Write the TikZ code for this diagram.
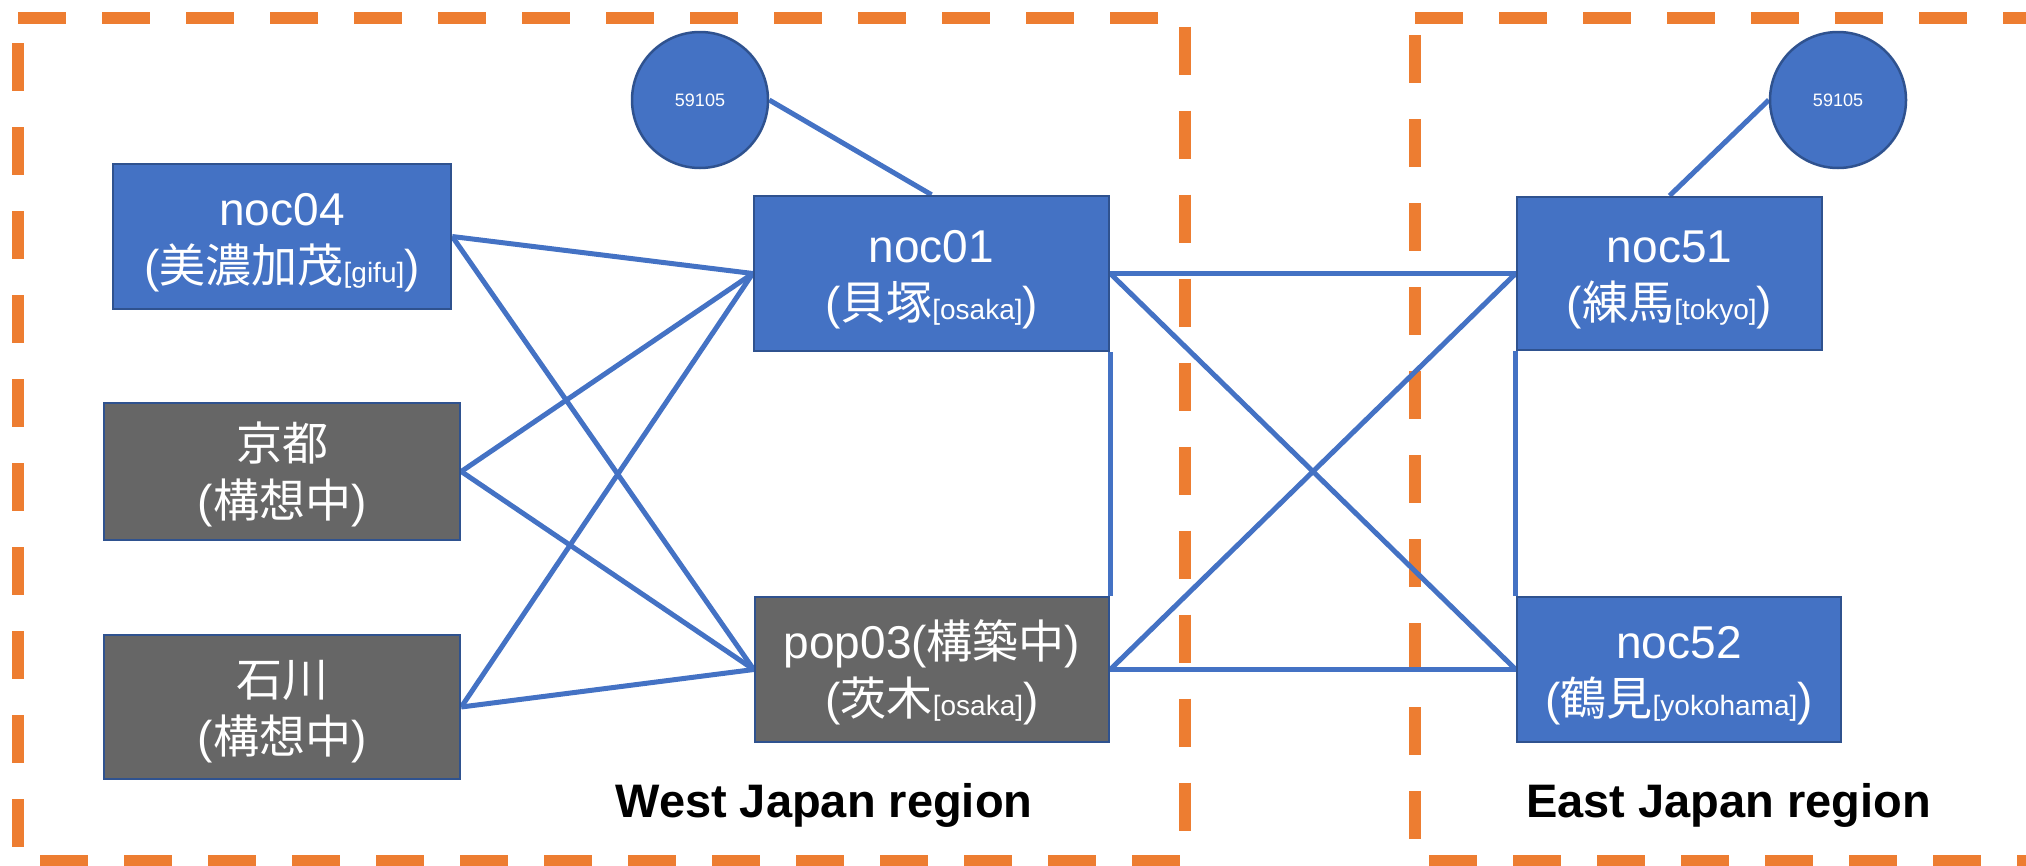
\documentclass[tikz,border=0pt]{standalone}
\usepackage{fontspec}
\setmainfont{Liberation Sans}
\newfontfamily\jpf{Noto Sans CJK JP}
\definecolor{orng}{HTML}{ED7D31}
\definecolor{bfill}{HTML}{4472C4}
\definecolor{bdraw}{HTML}{2F528F}
\definecolor{gfill}{HTML}{666666}
\newcommand{\smallt}[1]{{\fontsize{28}{57}\selectfont #1}}
\newcommand{\topstrut}{\rule{0pt}{45pt}}
\pgfdeclarelayer{bglayer}
\pgfdeclarelayer{midlayer}
\pgfsetlayers{bglayer,midlayer,main}
\begin{document}
\begin{tikzpicture}[x=1pt,y=-1pt,
  region/.style={draw=orng,line width=12pt,dash pattern=on 48pt off 36pt},
  bluebox/.style={draw=bdraw,fill=bfill,line width=2.5pt,text=white,align=center,
    inner sep=0pt,font=\fontsize{46}{57}\selectfont},
  graybox/.style={bluebox,fill=gfill},
  asn/.style={circle,draw=bdraw,fill=bfill,line width=2.5pt,text=white,
    minimum size=136pt,inner sep=0pt,font=\fontsize{18}{20}\selectfont},
  link/.style={draw=bfill,line width=5pt},
  regionlabel/.style={anchor=base,font=\bfseries\fontsize{47}{50}\selectfont}]
\clip (0,0) rectangle (2026,865);

% nodes
\node[bluebox,minimum width=338pt,minimum height=145pt] (noc04) at (282,236.5)
  {\topstrut noc04\\({\jpf 美濃加茂}\smallt{[gifu]})};
\node[graybox,minimum width=356pt,minimum height=137pt] (kyoto) at (282,471.5)
  {\topstrut{\jpf 京都}\\({\jpf 構想中})};
\node[graybox,minimum width=356pt,minimum height=144pt] (ishikawa) at (282,707)
  {\topstrut{\jpf 石川}\\({\jpf 構想中})};
\node[bluebox,minimum width=355pt,minimum height=155pt] (noc01) at (931.5,273.5)
  {\topstrut noc01\\({\jpf 貝塚}\smallt{[osaka]})};
\node[graybox,minimum width=354pt,minimum height=145pt] (pop03) at (932,669.5)
  {\topstrut pop03({\jpf 構築中})\\({\jpf 茨木}\smallt{[osaka]})};
\node[bluebox,minimum width=305pt,minimum height=153pt] (noc51) at (1669.5,273.5)
  {\topstrut noc51\\({\jpf 練馬}\smallt{[tokyo]})};
\node[bluebox,minimum width=324pt,minimum height=145pt] (noc52) at (1679,669.5)
  {\topstrut noc52\\({\jpf 鶴見}\smallt{[yokohama]})};
\node[asn] (cW) at (700,100) {59105};
\node[asn] (cE) at (1838,100) {59105};
\node[regionlabel] (westlbl) at (824,817) {West Japan region};
\node[regionlabel] (eastlbl) at (1728.5,817) {East Japan region};

% region frames
\begin{pgfonlayer}{bglayer}
\draw[region] (18,17.5) -- (1185,17.5) -- (1185,861) -- (18,861) -- cycle;
\draw[region] (1415,17.5) -- (2074,17.5) -- (2074,861) -- (1415,861) -- cycle;
\end{pgfonlayer}

% links
\begin{pgfonlayer}{midlayer}
\draw[link] (cW.east) -- (noc01.north);
\draw[link] (cE.west) -- (noc51.north);
\draw[link] (noc04.east) -- (noc01.west);
\draw[link] (noc04.east) -- (pop03.west);
\draw[link] (kyoto.east) -- (noc01.west);
\draw[link] (kyoto.east) -- (pop03.west);
\draw[link] (ishikawa.east) -- (noc01.west);
\draw[link] (ishikawa.east) -- (pop03.west);
\draw[link] (noc01.east) -- (noc51.west);
\draw[link] (noc01.east) -- (noc52.west);
\draw[link] (pop03.east) -- (noc51.west);
\draw[link] (pop03.east) -- (noc52.west);
\draw[link] (noc01.south east) -- (pop03.north east);
\draw[link] (noc51.south west) -- (noc52.north west);
\end{pgfonlayer}
\end{tikzpicture}
\end{document}
